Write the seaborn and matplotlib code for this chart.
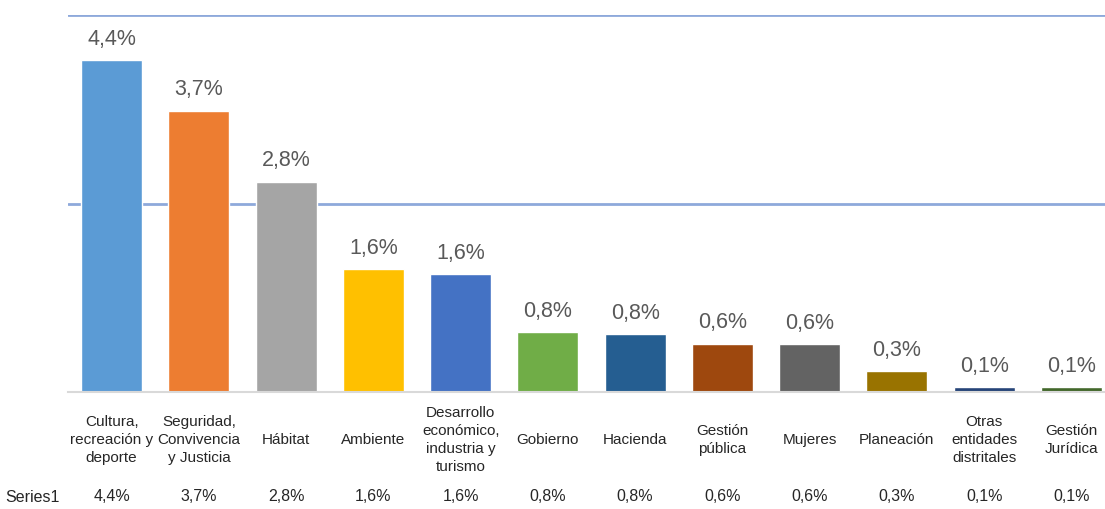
import numpy as np
import pandas as pd
import seaborn as sns
import matplotlib.pyplot as plt
from matplotlib import font_manager

categories = [
    "Cultura,\nrecreación y\ndeporte",
    "Seguridad,\nConvivencia\ny Justicia",
    "Hábitat",
    "Ambiente",
    "Desarrollo\neconómico,\nindustria y\nturismo",
    "Gobierno",
    "Hacienda",
    "Gestión\npública",
    "Mujeres",
    "Planeación",
    "Otras\nentidades\ndistritales",
    "Gestión\nJurídica",
]
values = [4.40, 3.73, 2.79, 1.63, 1.56, 0.79, 0.77, 0.64, 0.63, 0.28, 0.06, 0.06]
colors = ["#5B9BD5", "#ED7D31", "#A5A5A5", "#FFC000", "#4472C4", "#70AD47",
          "#255E91", "#9E480E", "#636363", "#997300", "#264478", "#43682B"]
series_name = "Series1"


def fmt(v):
    return f"{v:.1f}%".replace(".", ",")


sns.set_style("white")
names = {f.name for f in font_manager.fontManager.ttflist}
fam = ["Liberation Sans Narrow", "Liberation Sans", "DejaVu Sans"]
fam = [f for f in fam if f in names]
plt.rcParams["font.family"] = fam
txt_col = "#595959"

df = pd.DataFrame({"cat": categories, "val": values})

fig = plt.figure(figsize=(11.05, 5.09), dpi=100)
ax = fig.add_axes([68 / 1105, 117 / 509, 1037 / 1105, 377 / 509])
sns.barplot(data=df, x="cat", y="val", hue="cat", palette=colors,
            width=0.7, legend=False, ax=ax, saturation=1)

ax.set_ylim(0, 5.0)
ax.set_xlim(-0.5, 11.385)
ax.set_yticks([2.5, 5.0])
ax.yaxis.grid(True, color="#8EA9DB", linewidth=2)
ax.set_axisbelow(True)
ax.tick_params(left=False, bottom=False, labelleft=False, labelbottom=False)
ax.set_xlabel("")
ax.set_ylabel("")
for s in ["top", "left", "right"]:
    ax.spines[s].set_visible(False)
ax.spines["bottom"].set_color("#D9D9D9")
ax.spines["bottom"].set_linewidth(1.5)

trans = ax.get_xaxis_transform()
for i, (c, v) in enumerate(zip(categories, values)):
    ax.annotate(fmt(v), (i, v), xytext=(0, 11), textcoords="offset points",
                ha="center", va="baseline", fontsize=15.5, color=txt_col)
    ax.text(i, -0.127, c, transform=trans, ha="center", va="center",
            multialignment="center", fontsize=11, color="#262626",
            linespacing=1.35, clip_on=False)
    ax.text(i, -0.2785, fmt(v), transform=trans, ha="center", va="center",
            fontsize=11.5, color="#262626", clip_on=False)

fig.text(32 / 1105, 1 - 497 / 509, series_name, ha="center", va="center",
         fontsize=11.5, color="#262626")

fig.savefig("out.png", dpi=100)
